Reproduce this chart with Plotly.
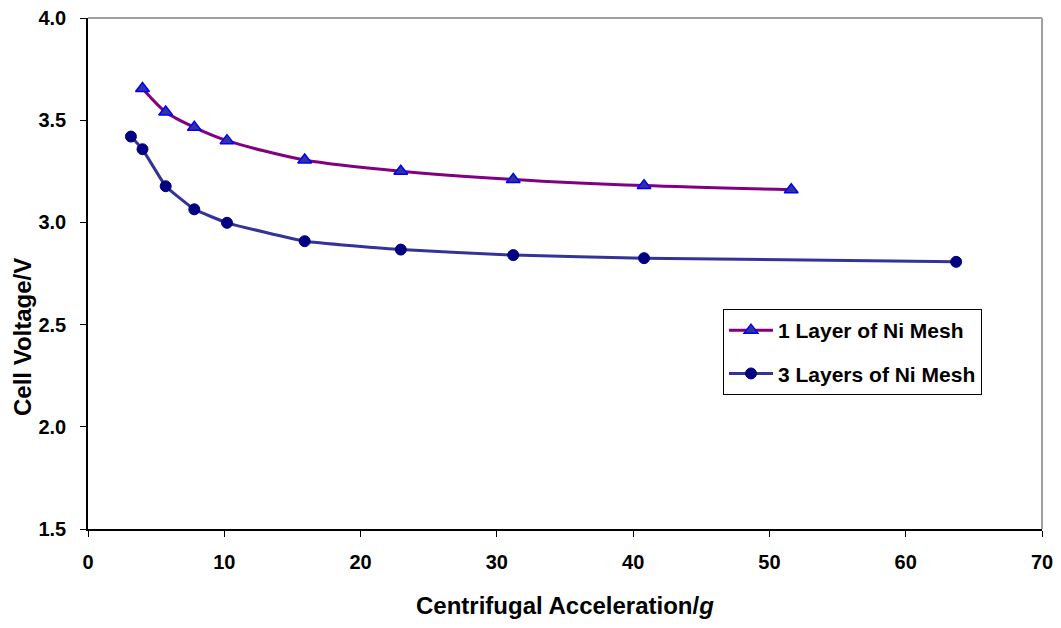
import plotly.graph_objects as go

accel_1 = [4.0, 5.7, 7.8, 10.2, 15.9, 22.95, 31.2, 40.8, 51.6]
volt_1 = [3.655, 3.54, 3.465, 3.40, 3.305, 3.25, 3.21, 3.18, 3.16]

accel_3 = [3.15, 4.0, 5.7, 7.8, 10.2, 15.9, 22.95, 31.2, 40.8, 63.7]
volt_3 = [3.42, 3.358, 3.177, 3.064, 2.998, 2.908, 2.867, 2.840, 2.825, 2.807]

name_1 = "1 Layer of Ni Mesh"
name_3 = "3 Layers of Ni Mesh"
x_title = "Centrifugal Acceleration/<i>g</i>"
y_title = "Cell Voltage/V"

FONT = "Liberation Sans, Arial, sans-serif"

fig = go.Figure()
fig.add_trace(go.Scatter(
    x=accel_1, y=volt_1, name=name_1, mode="lines+markers", legendgroup="a",
    line=dict(color="#800080", width=3, shape="spline", smoothing=0.8),
    marker=dict(symbol="triangle-up", size=12, color="#333399",
                line=dict(color="#0000FF", width=1.5)),
))
fig.add_trace(go.Scatter(
    x=accel_3, y=volt_3, name=name_3, mode="lines+markers", legendgroup="b",
    line=dict(color="#333399", width=3, shape="spline", smoothing=0.3),
    marker=dict(symbol="circle", size=11, color="#000080",
                line=dict(color="#000080", width=1)),
))

# plot area in figure pixels: x 80..1034, y 10..521
fig.update_layout(
    width=1061, height=628,
    margin=dict(l=80, r=27, t=10, b=107),
    paper_bgcolor="white", plot_bgcolor="white",
    font=dict(family=FONT, size=20, color="black"),
    showlegend=True,
    legend=dict(
        x=0.6656, y=0.4305, xanchor="left", yanchor="top",
        bgcolor="white", bordercolor="black", borderwidth=1,
        font=dict(family=FONT, size=21, color="black", weight="bold"),
        itemwidth=44, tracegroupgap=13,
    ),
    xaxis=dict(
        range=[0, 70], dtick=10, tick0=0, automargin=False,
        showline=True, linecolor="black", linewidth=1.5,
        ticks="outside", ticklen=6, tickcolor="black", tickwidth=1,
        showgrid=False, zeroline=False, ticklabeloverflow="allow",
        tickfont=dict(family=FONT, size=20, color="black", weight="bold"),
        ticklabelstandoff=8,
    ),
    yaxis=dict(
        range=[1.5, 4.0], dtick=0.5, tick0=1.5, tickformat=".1f", automargin=False,
        showline=True, linecolor="black", linewidth=1.5,
        ticks="outside", ticklen=6, tickcolor="black", tickwidth=1,
        showgrid=False, zeroline=False, ticklabeloverflow="allow",
        tickfont=dict(family=FONT, size=20, color="black", weight="bold"),
        ticklabelstandoff=10,
    ),
    shapes=[
        dict(type="line", xref="paper", yref="paper", x0=0, x1=1, y0=1, y1=1,
             line=dict(color="#A0A0A0", width=2), layer="below"),
        dict(type="line", xref="paper", yref="paper", x0=1, x1=1, y0=0, y1=1,
             line=dict(color="#A0A0A0", width=2), layer="below"),
    ],
    annotations=[
        dict(text=x_title, xref="paper", yref="paper", x=0.5, y=0,
             xanchor="center", yanchor="middle", yshift=-76, showarrow=False,
             font=dict(family=FONT, size=24, color="black", weight="bold")),
        dict(text=y_title, xref="paper", yref="paper", x=0, y=0.3757,
             xanchor="center", yanchor="middle", xshift=-66, textangle=-90,
             showarrow=False,
             font=dict(family=FONT, size=24, color="black", weight="bold")),
    ],
)

fig.write_html("out.html")
